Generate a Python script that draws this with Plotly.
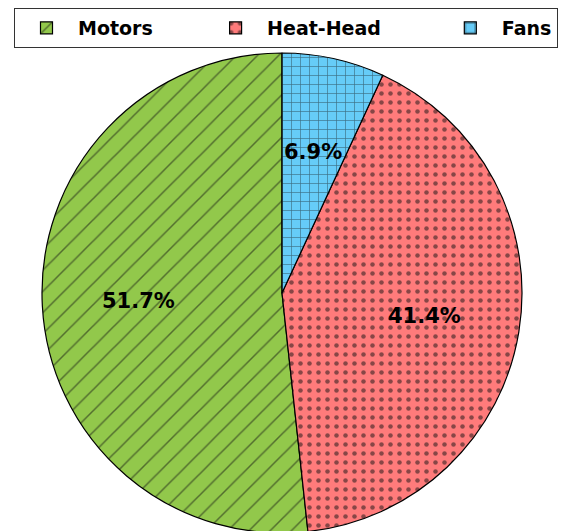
import math
import plotly.graph_objects as go

labels = ["Motors", "Heat-Head", "Fans"]
values = [15, 12, 2]
colors = ["#92C84B", "#FF7B7B", "#66CCF8"]
patterns = ["/", ".", "+"]
pattern_sizes = [15, 9, 9]

W, H = 569, 531
OFF = 8  # page body margin
cx, cy, r = 282 - OFF, 293 - OFF, 240

total = sum(values)
# plotly places the first slice clockwise of the rotation when counterclockwise,
# so rotate back by the first slice's angle to start it at 12 o'clock.
rot = -360.0 * values[0] / total

# legend spacing (non-breaking padding after the first entries)
pad = [7, 8, 0]
legend_labels = [lab + "\u00a0" * p for lab, p in zip(labels, pad)]

fig = go.Figure()
fig.add_trace(go.Pie(
    labels=legend_labels,
    values=values,
    sort=False,
    direction="counterclockwise",
    rotation=rot,
    textinfo="none",
    hovertemplate="%{label}: %{percent}<extra></extra>",
    marker=dict(
        colors=colors,
        line=dict(color="black", width=1.2),
        pattern=dict(shape=patterns, size=pattern_sizes, solidity=[0.1, 0.2, 0.14],
                     fgcolor="#111111", fillmode="overlay"),
    ),
    domain=dict(x=[max(0, (cx - r) / W), min(1, (cx + r) / W)],
                y=[max(0, (H - cy - r) / H), min(1, (H - cy + r) / H)]),
))

# percentage labels at 0.6 radius, like matplotlib's pctdistance
start = 90.0
annotations = []
for lab, v in zip(labels, values):
    frac = v / total
    mid = math.radians(start + frac * 360 / 2)
    start += frac * 360
    px = cx + 0.6 * r * math.cos(mid)
    py = (H - cy) + 0.6 * r * math.sin(mid)
    annotations.append(dict(
        x=px / W, y=py / H, xref="paper", yref="paper",
        xanchor="center", yanchor="middle",
        text=f"<b>{frac*100:.1f}%</b>", showarrow=False,
        font=dict(family="DejaVu Sans", size=21, color="black"),
    ))

fig.update_layout(
    width=W, height=H,
    margin=dict(l=0, r=0, t=0, b=0),
    paper_bgcolor="white",
    plot_bgcolor="white",
    annotations=annotations,
    showlegend=True,
    legend=dict(
        orientation="h",
        x=(14 - OFF) / W, y=1, xanchor="left", yanchor="top",
        bordercolor="#333333", borderwidth=1,
        font=dict(family="DejaVu Sans", size=19, color="black", weight="bold"),
        itemwidth=53,
        bgcolor="white",
    ),
)

fig.write_html("out.html")
